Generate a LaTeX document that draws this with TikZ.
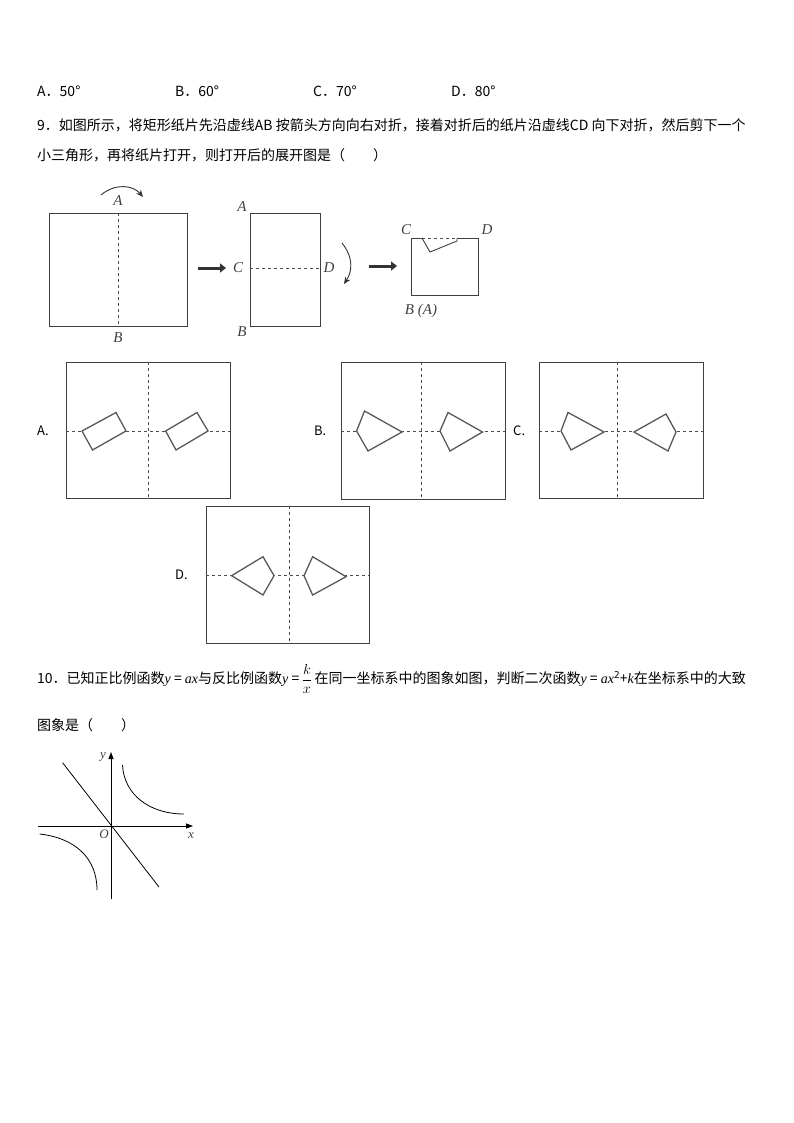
\documentclass[tikz,border=0pt]{standalone}
\usepackage{fontspec}
\setmainfont{Liberation Serif}
\newfontfamily\cjk{Noto Sans CJK SC}
\usetikzlibrary{arrows.meta}
\newcommand{\mi}[1]{{\rmfamily\itshape #1}}
\tikzset{
  paper/.style={draw=black!75,line width=0.9pt},
  fold/.style={draw=black!70,dashed,line width=0.8pt},
  cut/.style={draw=black!65,line width=1.3pt,line join=miter},
  lbl/.style={font=\rmfamily\itshape\fontsize{15}{15}\selectfont,text=black!75,inner sep=0pt},
  txt/.style={font=\cjk\fontsize{14}{14}\selectfont,anchor=west,inner sep=0pt},
  opt/.style={font=\cjk\fontsize{13}{13}\selectfont,anchor=west,inner sep=0pt},
  thick arrow/.style={line width=3pt,-{Triangle[length=6pt,width=9pt]}},
}
\begin{document}
\begin{tikzpicture}[x=1pt,y=-1pt]
\useasboundingbox (0,0) rectangle (794,1123);
% answer line
\node[txt] (a8) at (37,91) {A．50°};
\node[txt] (b8) at (175,91) {B．60°};
\node[txt] (c8) at (313,91) {C．70°};
\node[txt] (d8) at (451,91) {D．80°};
\node[txt] (q9a) at (37,125) {9．如图所示，将矩形纸片先沿虚线AB 按箭头方向向右对折，接着对折后的纸片沿虚线CD 向下对折，然后剪下一个};
\node[txt] (q9b) at (37,155) {小三角形，再将纸片打开，则打开后的展开图是（\quad\quad）};
% figure 1
\draw[paper] (49,213) rectangle (187,326);
\draw[fold] (118,213) -- (118,326);
\node[lbl] (A1) at (118,201) {A};
\node[lbl] (B1) at (118,338) {B};
\draw[black!80,line width=0.9pt,-{Stealth[length=7pt,width=6pt]}] (101,195) .. controls (115,183) and (133,185) .. (143,197);
\draw[black!80,thick arrow] (198,268) -- (226,268);
% figure 2
\draw[paper] (250,213) rectangle (320,326);
\draw[fold] (250,268) -- (320,268);
\node[lbl] (A2) at (242,207) {A};
\node[lbl] (B2) at (242,332) {B};
\node[lbl] (C2) at (238,268) {C};
\node[lbl] (D2) at (329,268) {D};
\draw[black!80,line width=0.9pt,-{Stealth[length=7pt,width=6pt]}] (342,243) .. controls (354,258) and (352,272) .. (344,284);
\draw[black!80,thick arrow] (369,266) -- (397,266);
% figure 3
\draw[paper] (422,238) -- (411,238) -- (411,295) -- (478,295) -- (478,238) -- (457,238);
\draw[fold] (422,238) -- (457,238);
\draw[paper] (422,238) -- (430,252) -- (457,241) -- (457,238);
\node[lbl] (C3) at (406,230) {C};
\node[lbl] (D3) at (487,230) {D};
\node[lbl] (BA) at (421,311) {B (A)};
% option A
\node[opt] (oA) at (37,431) {A.};
\draw[paper] (66,362) rectangle (230,498);
\draw[fold] (148,362) -- (148,498);
\draw[fold] (66,431) -- (230,431);
\draw[cut,fill=white] (82,431) -- (116,412.5) -- (126,431) -- (92.5,450) -- cycle;
\draw[cut,fill=white] (165.6,431) -- (197,412.5) -- (208,431) -- (176,450) -- cycle;
% option B
\node[opt] (oB) at (314,431) {B.};
\draw[paper] (341,362) rectangle (505,499);
\draw[fold] (421,362) -- (421,499);
\draw[fold] (341,431) -- (505,431);
\draw[cut,fill=white] (356.6,431) -- (364.5,411) -- (402,432) -- (368,451) -- cycle;
\draw[cut,fill=white] (440,431) -- (448,412.5) -- (482.5,432) -- (450,451) -- cycle;
% option C
\node[opt] (oC) at (513,431) {C.};
\draw[paper] (539,362) rectangle (703,498);
\draw[fold] (617,362) -- (617,498);
\draw[fold] (539,431) -- (703,431);
\draw[cut,fill=white] (561,431) -- (568,412.5) -- (604,432) -- (571,450) -- cycle;
\draw[cut,fill=white] (634,432) -- (666,414) -- (676,432) -- (668,451) -- cycle;
% option D
\node[opt] (oD) at (175,575) {D.};
\draw[paper] (206,506) rectangle (369,643);
\draw[fold] (289,506) -- (289,643);
\draw[fold] (206,575) -- (369,575);
\draw[cut,fill=white] (231.6,575.7) -- (263,556.7) -- (274,575.7) -- (263,595) -- cycle;
\draw[cut,fill=white] (304,575.7) -- (312.6,556.7) -- (346,576.7) -- (312.6,595) -- cycle;
% question 10
\node[txt] (q10l) at (37,679) {10．已知正比例函数\mi{y} = \mi{ax}与反比例函数\mi{y} =};
\node[txt,inner xsep=2pt] (q10f) at (q10l.east) {\fontsize{14}{14}\selectfont$\displaystyle\frac{k}{x}$};
\node[txt] (q10r) at (q10f.east) {在同一坐标系中的图象如图，判断二次函数\mi{y} = \mi{ax}\textsuperscript{2}+\mi{k}在坐标系中的大致};
\node[txt] (q10b) at (37,725) {图象是（\quad\quad）};
% graph
\draw[line width=0.8pt,-{Triangle[length=7pt,width=5pt]}] (38,826) -- (193,826);
\draw[line width=0.8pt,-{Triangle[length=7pt,width=5pt]}] (111,899) -- (111,752);
\node[lbl,font=\rmfamily\itshape\fontsize{13}{13}\selectfont] (ylab) at (103,757) {y};
\node[lbl,font=\rmfamily\itshape\fontsize{13}{13}\selectfont] (xlab) at (191,836) {x};
\node[lbl,font=\rmfamily\itshape\fontsize{13}{13}\selectfont] (olab) at (104,834) {O};
\draw[line width=0.8pt] (62.6,762.7) -- (159,887);
\draw[line width=0.8pt] (122.5,765) .. controls (124,795) and (150,814) .. (184,814);
\draw[line width=0.8pt] (39.6,834) .. controls (75,838) and (97,858) .. (97,890);
\end{tikzpicture}
\end{document}
